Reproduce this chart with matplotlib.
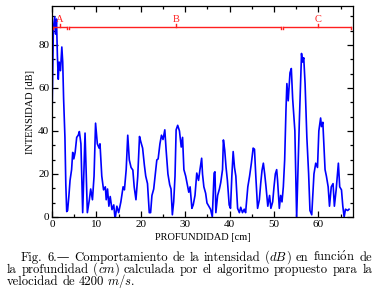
import matplotlib
matplotlib.use("Agg")
import matplotlib.pyplot as plt
from matplotlib.ticker import MultipleLocator

plt.rcParams['mathtext.fontset'] = 'cm'

# valores
depth = [0, 0.3, 0.6, 0.8, 1.0, 1.2, 1.4, 1.6, 1.9, 2.2, 2.4, 2.6, 2.9, 3.1, 3.3, 3.5,
         3.8, 4.05, 4.4, 4.65, 4.9, 5.2, 5.55, 5.9, 6.15, 6.5, 6.9, 7.15, 7.43, 7.7, 7.95,
         8.4, 8.7, 9.1, 9.46, 9.8, 10.2, 10.6, 10.8, 11.2, 11.6, 12.0, 12.2, 12.5, 12.8,
         13.1, 13.5, 13.9, 14.2, 14.6, 15.0, 15.5, 16.0, 16.3, 16.7, 17.05, 17.4, 17.8,
         18.2, 18.5, 18.9, 19.3, 19.7, 20.0, 20.4, 20.8, 21.1, 21.5, 21.9, 22.2, 22.5,
         22.9, 23.2, 23.6, 23.9, 24.3, 24.65, 25.0, 25.4, 25.7, 26.1, 26.5, 26.8, 27.1,
         27.4, 27.7, 27.95, 28.3, 28.7, 29.1, 29.4, 29.7, 30.1, 30.5, 30.8, 31.1, 31.5,
         31.8, 32.2, 32.6, 33.0, 33.3, 33.7, 33.9, 34.2, 34.6, 34.9, 35.3, 35.7, 36.1,
         36.5, 36.7, 36.9, 37.3, 37.7, 38.0, 38.4, 38.6, 38.9, 39.2, 39.5, 39.9, 40.2,
         40.5, 40.8, 41.1, 41.4, 41.8, 42.2, 42.5, 42.9, 43.3, 43.6, 44.1, 44.5, 44.9,
         45.3, 45.6, 45.9, 46.3, 46.7, 47.0, 47.3, 47.6, 47.9, 48.2, 48.6, 49.0, 49.3,
         49.7, 50.0, 50.3, 50.6, 50.8, 51.2, 51.5, 51.8, 52.1, 52.4, 52.7, 52.9, 53.2,
         53.6, 53.9, 54.2, 54.7, 55.1, 55.7, 56.2, 56.4, 56.7, 57.0, 57.4, 57.8, 58.1,
         58.5, 59.0, 59.4, 59.8, 60.1, 60.5, 60.7, 61.0, 61.2, 61.5, 61.8, 62.2, 62.5,
         62.9, 63.3, 63.6, 64.0, 64.5, 64.8, 65.2, 65.5, 65.8, 66.1, 66.6, 66.9]
intensity = [48, 88, 93, 85, 92, 75, 64, 72, 68, 79, 72, 55, 37, 15, 2.5, 3,
             10, 17, 22, 30, 27, 30, 37, 38, 39.7, 34, 2, 20, 39, 20, 2,
             8, 13, 8, 19, 43.6, 34, 32, 34, 19, 12.6, 14, 8, 13, 5,
             9.5, 3.4, 5.6, -1, 5, 2, 7, 14, 12.6, 22, 38, 26.5, 23,
             21.8, 14, 8, 18.8, 37.4, 34.9, 32, 24, 19, 15.5, 2, 2, 10,
             13, 19, 26.5, 27, 34, 38, 36, 40.5, 31, 20, 15, 13, 1,
             7, 19, 40.5, 42.6, 40, 32.5, 37, 22, 19, 14.6, 11.5, 14, 4,
             5.6, 10, 20.4, 17, 21.7, 27.3, 19.8, 14, 11, 6.5, 5, 3.6, 0,
             20.4, 21, 2, 10, 13, 16, 22, 35.8, 31, 23, 17, 5.6, 4,
             19, 30.4, 23, 19, 4, 2, 4.5, 2, 3.6, 2, 14, 19, 25,
             32, 31.5, 19, 4, 8, 15.5, 21.7, 25, 20, 14, 5, 10, 4,
             7, 14, 20, 22, 17, 4, 10, 7, 14, 26.5, 50, 62, 54,
             67, 69, 55, 40, -0.5, 44, 76, 72, 74, 62, 37, 20, 3,
             1, 20, 25, 23, 40, 46, 42, 44, 35, 22, 19, 14, 5,
             14, 15.5, 5, 12.6, 25, 14, 12.6, 5, 0, 3.6, 3, 3.6]

zone_labels = ['A', 'B', 'C']
zone_edges = [0, 3.6, 51.8, 67.4]
zone_label_x = [1.7, 28, 60]
zone_level = 88.4

fig = plt.figure(figsize=(3.8, 2.92), dpi=100)
ax = fig.add_axes([0.137, 0.257, 0.792, 0.722])

ax.plot(depth, intensity, color='#0000ff', lw=1.2)

# corchetes de zonas
red = '#ff2020'
for i, lab in enumerate(zone_labels):
    a, b = zone_edges[i], zone_edges[i + 1]
    ax.plot([a + 0.15, b - 0.15], [zone_level, zone_level], color=red, lw=1.0)
    ax.plot([a + 0.15, a + 0.15], [zone_level - 1.2, zone_level], color=red, lw=1.0)
    ax.plot([b - 0.15, b - 0.15], [zone_level - 1.2, zone_level], color=red, lw=1.0)
    ax.plot([zone_label_x[i]] * 2, [zone_level, zone_level + 1.2], color=red, lw=1.0)
    ax.text(zone_label_x[i], zone_level + 1.3, lab, color=red, fontsize=7.5,
            family='Liberation Serif', ha='center', va='bottom')

ax.set_xlim(0, 67.8)
ax.set_ylim(0, 98)
ax.xaxis.set_major_locator(MultipleLocator(10))
ax.xaxis.set_minor_locator(MultipleLocator(5))
ax.yaxis.set_major_locator(MultipleLocator(20))
ax.yaxis.set_minor_locator(MultipleLocator(20 / 3))
ax.tick_params(which='both', direction='in', top=True, right=True, width=0.9,
               labelsize=8, pad=2)
ax.tick_params(which='major', length=4)
ax.tick_params(which='minor', length=2)
for lab in ax.get_xticklabels() + ax.get_yticklabels():
    lab.set_family('Liberation Serif')
for s in ax.spines.values():
    s.set_linewidth(0.9)

ax.set_xlabel('PROFUNDIDAD [cm]', family='Liberation Serif', fontsize=7.5, labelpad=3)
ax.set_ylabel('INTENSIDAD [dB]', family='Liberation Serif', fontsize=7.5, labelpad=2)

# leyenda justificada; cada palabra es una lista de trozos (texto, fuente)
RM = ['cmr10', 'DejaVu Serif']
IT = ['cmmi10', 'DejaVu Serif']
renderer = fig.canvas.get_renderer()


def put_line(words, x0, x1, y, justify=True):
    W = fig.bbox.width
    pieces, widths = [], []
    for word in words:
        row, w = [], 0
        for txt, fam in word:
            t = fig.text(0, y, txt, family=fam, fontsize=9.1, va='baseline')
            tw = t.get_window_extent(renderer).width
            row.append((t, tw))
            w += tw
        pieces.append(row)
        widths.append(w)
    if justify and len(words) > 1:
        gap = (x1 - x0 - sum(widths)) / (len(words) - 1)
    else:
        gap = 3.6
    x = x0
    for row, w in zip(pieces, widths):
        xx = x
        for t, tw in row:
            t.set_x(xx / W)
            xx += tw
        x += w + gap


def rm(*ws):
    return [[(w, RM)] for w in ws]


H = fig.bbox.height
line1 = rm('Fig.', '6.\u2014', 'Comportamiento', 'de', 'la', 'intensidad') + \
    [[('(', RM), ('dB', IT), (')', RM)]] + rm('en', 'funci$\\mathrm{\\acute{o}}$n', 'de')
line2 = rm('la', 'profundidad') + [[('(', RM), ('cm', IT), (')', RM)]] + \
    rm('calculada', 'por', 'el', 'algoritmo', 'propuesto', 'para', 'la')
line3 = rm('velocidad', 'de', '4200') + [[('m', IT), ('/', RM), ('s', IT), ('.', RM)]]
put_line(line1, 21, 372, 1 - 261 / H)
put_line(line2, 7, 372, 1 - 273 / H)
put_line(line3, 7, 372, 1 - 285 / H, justify=False)

fig.savefig('out.png', dpi=100)
